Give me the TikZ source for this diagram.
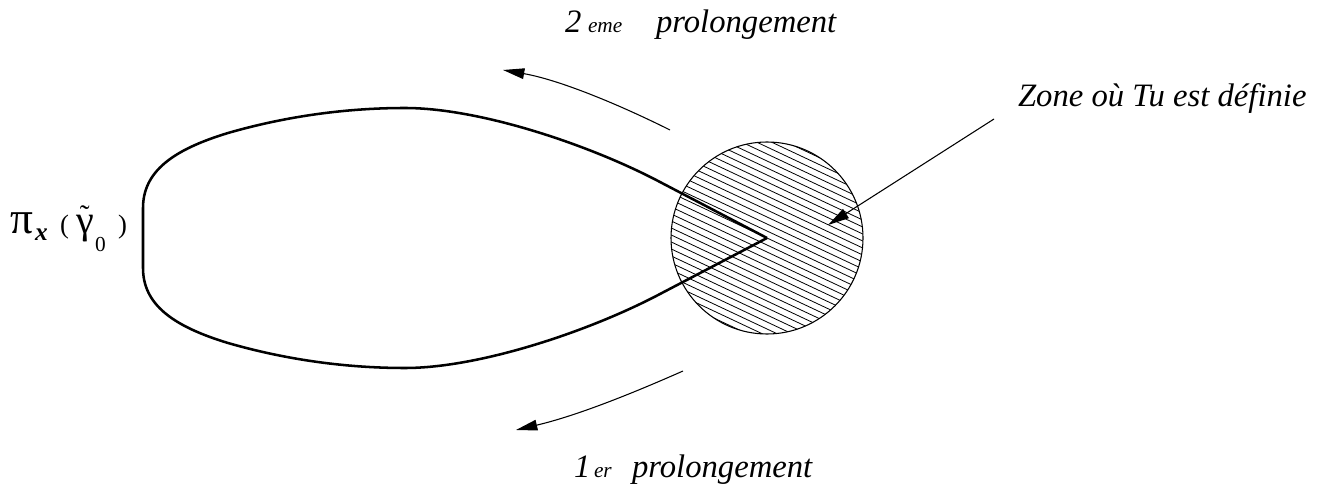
\documentclass[tikz,border=0pt]{standalone}
\usepackage{fontspec}
\setmainfont{Liberation Serif}
\newfontfamily\serif{Liberation Serif}
\usetikzlibrary{arrows.meta}
\tikzset{
  curveline/.style={line width=1.9pt, line join=miter},
  thin arrow/.style={line width=0.8pt, -{Triangle[length=16pt,width=8pt]}},
  hatchline/.style={line width=0.6pt},
  lbl/.style={inner sep=0pt, outer sep=0pt, anchor=base west, font=\serif\fontsize{24.5}{28}\selectfont\itshape},
  small lbl/.style={inner sep=0pt, outer sep=0pt, anchor=base west, font=\serif\fontsize{16}{18}\selectfont\itshape},
  sym/.style={inner sep=0pt, outer sep=0pt, anchor=base west}
}
\begin{document}
\begin{tikzpicture}[x=0.75pt,y=-0.75pt]
\useasboundingbox (0,0) rectangle (1330,491);
\coordinate (C) at (767,238);

% hatched zone
\begin{scope}
  \clip (C) circle[radius=72pt];
  \foreach \k in {-30,...,30} {
    \draw[hatchline] (650,{238+7*\k-0.47*117}) -- (885,{238+7*\k+0.47*118});
  }
\end{scope}
\draw[line width=0.8pt] (C) circle[radius=72pt];

% loop
\draw[curveline] (C) -- (660,182)
  .. controls (590,145) and (480,108) .. (405,108)
  .. controls (340,108) and (280,118) .. (228,133)
  .. controls (172,150) and (143,172) .. (143,208)
  -- (143,268)
  .. controls (143,304) and (172,326) .. (228,343)
  .. controls (280,358) and (340,368) .. (405,368)
  .. controls (480,368) and (590,331) .. (660,294)
  -- (C);

% arrows of the prolongements
\coordinate (a2s) at (670,130);
\coordinate (a2e) at (503,70);
\draw[thin arrow] (a2s) .. controls (620,105) and (560,80) .. (a2e);
\coordinate (a1s) at (683,371);
\coordinate (a1e) at (516,430);
\draw[thin arrow] (a1s) .. controls (640,390) and (580,415) .. (a1e);

% pointer to the zone
\coordinate (zs) at (994,119);
\coordinate (zt) at (828,225);
\draw[thin arrow] (zs) -- (zt);

% texts
\node[lbl] (two) at (565,33) {2};
\node[small lbl] (eme) at (588,33) {eme};
\node[lbl] (pro2) at (656,33) {prolongement};
\node[lbl] (one) at (574,477) {1};
\node[small lbl] (er) at (594,477) {er};
\node[lbl] (pro1) at (632,477) {prolongement};
\node[lbl] (zone) at (1018,107) {Zone où Tu est définie};

% label of the curve
\node[sym, font=\serif\fontsize{34}{36}\selectfont] (pi) at (10,234) {π};
\node[sym, font=\serif\fontsize{19}{22}\selectfont\bfseries\itshape] (xs) at (35,241) {x};
\node[sym, font=\serif\fontsize{20}{22}\selectfont] (lp) at (60,234) {(};
\node[sym, font=\serif\fontsize{30}{33}\selectfont] (gam) at (76,234)
  {\ooalign{γ\cr\hfil\raisebox{6.5pt}{\fontsize{22}{24}\selectfont ˜}\hfil\cr}};
\node[sym, font=\serif\fontsize{16}{18}\selectfont] (zero) at (95,252) {0};
\node[sym, font=\serif\fontsize{20}{22}\selectfont] (rp) at (118,234) {)};
\end{tikzpicture}
\end{document}
